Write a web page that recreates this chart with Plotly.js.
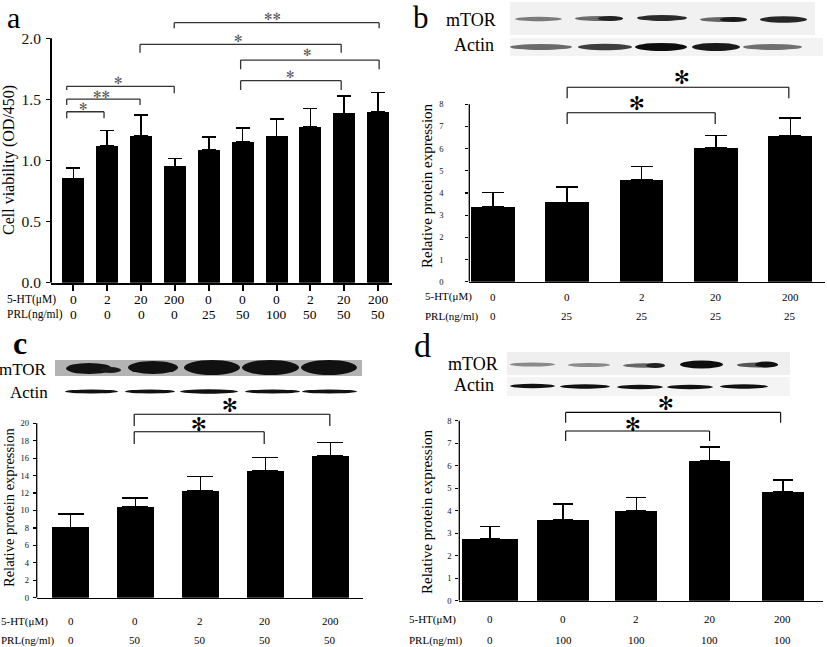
<!DOCTYPE html>
<html><head><meta charset="utf-8">
<script src="https://cdn.plot.ly/plotly-3.0.1.min.js"></script>
<style>html,body{margin:0;padding:0;background:#fff}</style>
</head><body><div id="chart" style="width:827px;height:647px"></div>
<script>
// ---------------- DATA ----------------
// Panel a : cell viability (OD/450)
const aHT   = ['0','2','20','200','0','0','0','2','20','200'];
const aPRL  = ['0','0','0','0','25','50','100','50','50','50'];
const aMean = [0.854,1.121,1.200,0.952,1.086,1.154,1.198,1.274,1.386,1.397];
const aErr  = [0.087,0.123,0.170,0.066,0.104,0.114,0.144,0.153,0.142,0.158];
const aSigFrom  = [0,0,0,2,3,5,5];
const aSigTo    = [1,2,3,8,9,9,8];
const aSigLabel = ['*','**','*','*','**','*','*'];

// Panel b : mTOR, PRL 25 ng/ml
const bHT   = ['0','0','2','20','200'];
const bPRL  = ['0','25','25','25','25'];
const bMean = [3.36,3.58,4.59,6.04,6.58];
const bErr  = [0.67,0.70,0.61,0.56,0.79];

// Panel c : mTOR, PRL 50 ng/ml
const cHT   = ['0','0','2','20','200'];
const cPRL  = ['0','50','50','50','50'];
const cMean = [8.07,10.37,12.27,14.53,16.28];
const cErr  = [1.53,1.03,1.61,1.57,1.50];

// Panel d : mTOR, PRL 100 ng/ml
const dHT   = ['0','0','2','20','200'];
const dPRL  = ['0','100','100','100','100'];
const dMean = [2.73,3.59,3.99,6.21,4.84];
const dErr  = [0.56,0.71,0.59,0.63,0.52];

// significance brackets of b, c, d (from group, to group)
const bcdSigFrom  = [1,1];
const bcdSigTo    = [3,4];
const bcdSigLabel = ['*','*'];

// ---------------- LAYOUT HELPERS ----------------
const W = 827, H = 647;
const px = x => x / W;
const py = y => 1 - y / H;
const SERIF = 'Liberation Serif, Times New Roman, serif';
const idx = arr => arr.map((_, i) => i);

function barTrace(vals, errs, xa, ya, width, capw, thick) {
  return {
    type: 'bar', x: idx(vals), y: vals, xaxis: xa, yaxis: ya, width: width,
    marker: {color: '#000', line: {width: 0}},
    error_y: {type: 'data', array: errs, arrayminus: errs.map(() => 0), symmetric: false,
              color: '#000', thickness: thick, width: capw},
    hoverinfo: 'skip', cliponaxis: false
  };
}

const data = [
  barTrace(aMean, aErr, 'x',  'y',  0.65, 7, 1.6),
  barTrace(bMean, bErr, 'x2', 'y2', 0.587, 11, 1.6),
  barTrace(cMean, cErr, 'x3', 'y3', 0.578, 13, 1.6),
  barTrace(dMean, dErr, 'x4', 'y4', [0.77,0.71,0.57,0.57,0.57], 10, 1.6)
];

const shapes = [];
const annotations = [];

function line(xref, yref, x0, y0, x1, y1, color, w) {
  shapes.push({type: 'line', xref: xref, yref: yref, x0: x0, y0: y0, x1: x1, y1: y1,
               line: {color: color, width: w}, layer: 'above'});
}
function text(t, xref, x, yref, y, size, opts) {
  annotations.push(Object.assign({text: t, xref: xref, x: x, yref: yref, y: y, showarrow: false,
    font: {family: SERIF, size: size, color: '#000'}, xanchor: 'center', yanchor: 'middle'}, opts || {}));
}

// ---- y-axis lines drawn only up to the last tick
line('x domain', 'y',  0, 0, 0, 2,  '#000', 2);
line('x2 domain','y2', 0, 0, 0, 8,  '#000', 1.3);
line('x3 domain','y3', 0, 0, 0, 20, '#000', 1.3);
line('x4 domain','y4', 0, 0, 0, 8,  '#000', 1.3);

// ---- panel a brackets (positions in axis units)
const aBr = [ // x0, x1, yLine, yLeg0, yLeg1, starX, starY
  [-0.195, 0.907, 1.399, 1.345, 1.345, 0.295, 1.44],
  [-0.195, 1.97,  1.503, 1.454, 1.454, 0.839, 1.544],
  [-0.195, 2.98,  1.607, 1.577, 1.550, 1.31,  1.656],
  [1.97,   7.91,  1.951, 1.882, 1.882, 4.87,  2.00],
  [2.98,   9.03,  2.128, 2.082, 2.082, 5.89,  2.182],
  [4.94,   9.03,  1.822, 1.746, 1.746, 6.91,  1.885],
  [4.94,   7.91,  1.653, 1.577, 1.577, 6.40,  1.70]
];
aBr.forEach((b, k) => {
  line('x','y', b[0], b[2], b[1], b[2], '#333', 1.3);
  line('x','y', b[0], b[2], b[0], b[3], '#333', 1.3);
  line('x','y', b[1], b[2], b[1], b[4], '#333', 1.3);
  const lab = aSigLabel[k].replace(/\*/g, '✻');
  annotations.push({text: lab, xref: 'x', yref: 'y', x: b[5], y: b[6], showarrow: false,
    font: {family: 'DejaVu Sans', size: 10, color: '#555'}, xanchor: 'center', yanchor: 'middle'});
});

// ---- panels b,c,d brackets
function bcdBrackets(xa, ya, spec) {
  spec.forEach(b => {
    line(xa, ya, b[0], b[2], b[1], b[2], '#000', 1.1);
    line(xa, ya, b[0], b[2], b[0], b[3], '#000', 1.1);
    line(xa, ya, b[1], b[2], b[1], b[3], '#000', 1.1);
    annotations.push({text: '✻', xref: xa, yref: ya, x: b[4], y: b[5], showarrow: false,
      font: {family: 'DejaVu Sans', size: 19, color: '#000'}, xanchor: 'center', yanchor: 'middle'});
  });
}
// x0, x1, yLine, yLeg, starX, starY
bcdBrackets('x2','y2', [[bcdSigFrom[0], bcdSigTo[0]-0.01, 7.62, 7.11, 1.94, 8.05],
                        [bcdSigFrom[1], bcdSigTo[1]-0.02, 8.77, 8.27, 2.55, 9.25]]);
bcdBrackets('x3','y3', [[bcdSigFrom[0]-0.02, bcdSigTo[0]-0.02, 19.04, 17.63, 1.98, 19.92],
                        [bcdSigFrom[1]-0.02, bcdSigTo[1]-0.01, 21.03, 19.69, 2.45, 22.1]]);
bcdBrackets('x4','y4', [[bcdSigFrom[0]+0.036, bcdSigTo[0], 7.54, 7.10, 1.95, 7.84],
                        [bcdSigFrom[1]+0.036, bcdSigTo[1]-0.03, 8.37, 7.91, 2.41, 8.77]]);

// ---- condition rows under the x axes
function rows(xa, ht, prl, labX, y1, y2, labSize, valSize) {
  text('5-HT(μM)', 'paper', px(labX), 'paper', py(y1), labSize, {xanchor: 'left'});
  text('PRL(ng/ml)', 'paper', px(labX), 'paper', py(y2), labSize, {xanchor: 'left'});
  ht.forEach((v, i) => text(v, xa, i, 'paper', py(y1), valSize));
  prl.forEach((v, i) => text(v, xa, i, 'paper', py(y2), valSize));
}
rows('x',  aHT, aPRL, 5,   299,   314.5, 11.5, 13.5);
rows('x2', bHT, bPRL, 423, 296.7, 316,   11,   11);
rows('x3', cHT, cPRL, -1,  621,   640,   11,   11);
rows('x4', dHT, dPRL, 407, 619,   640,   11,   11);

// ---- panel letters, y titles, blot labels
text('a', 'paper', px(13), 'paper', py(17.5), 30);
text('b', 'paper', px(421), 'paper', py(17.5), 31);
text('c', 'paper', px(20), 'paper', py(343), 32, {font: {family: SERIF, size: 32, color: '#000', weight: 'bold'}});
text('d', 'paper', px(422), 'paper', py(345), 34);

text('Cell viability (OD/450)', 'paper', px(9), 'paper', py(160), 16, {textangle: -90});
text('Relative protein expression', 'paper', px(427), 'paper', py(186), 15, {textangle: -90});
text('Relative protein expression', 'paper', px(9), 'paper', py(508), 14.5, {textangle: -90});
text('Relative protein expression', 'paper', px(427), 'paper', py(512), 15, {textangle: -90});

text('mTOR', 'paper', px(498), 'paper', py(20), 18, {xanchor: 'right'});
text('Actin', 'paper', px(496), 'paper', py(45), 18, {xanchor: 'right'});
text('mTOR', 'paper', px(49), 'paper', py(369), 17, {xanchor: 'right'});
text('Actin', 'paper', px(50), 'paper', py(392), 17, {xanchor: 'right'});
text('mTOR', 'paper', px(500), 'paper', py(364), 18, {xanchor: 'right'});
text('Actin', 'paper', px(496), 'paper', py(385), 18, {xanchor: 'right'});

// ---- western blot strips (decorative image content)
function rect(x0, y0, x1, y1, color) {
  shapes.push({type: 'rect', xref: 'paper', yref: 'paper', x0: px(x0), x1: px(x1), y0: py(y1), y1: py(y0),
               fillcolor: color, line: {width: 0}, layer: 'below'});
}
function band(x0, x1, yc, h, color) {
  shapes.push({type: 'circle', xref: 'paper', yref: 'paper', x0: px(x0), x1: px(x1), y0: py(yc + h / 2), y1: py(yc - h / 2),
               fillcolor: color, line: {width: 0}, layer: 'below'});
}
// b
rect(510, 2, 815, 35, '#f1f1f1');
rect(510, 38, 823, 56, '#f3f3f3');
band(515, 562, 19, 4.5, '#7a7a7a');
band(575, 623, 18.5, 5, '#6a6a6a'); band(598, 623, 18.5, 5, '#222');
band(637, 687, 18, 6, '#2a2a2a');
band(700, 747, 19.5, 5, '#666');  band(720, 747, 19.5, 5, '#1a1a1a');
band(760, 807, 19.5, 6.5, '#262626');
band(510, 572, 47, 6, '#6a6a6a');
band(578, 632, 47, 6.5, '#3e3e3e');
band(635, 687, 47, 8, '#0d0d0d');
band(692, 740, 47, 8, '#1a1a1a');
band(743, 802, 47, 6, '#707070');
// c
rect(55, 360, 362, 376, '#b3b3b3');
band(66, 112, 368.5, 11, '#121212'); band(100, 121, 370, 6, '#1a1a1a');
band(128, 178, 367.5, 13, '#111');
band(184, 240, 367.5, 15, '#111');
band(242, 299, 367.5, 15, '#111');
band(301, 357, 367.5, 15, '#111');
band(65, 118, 391.5, 4, '#111');
band(125, 175, 391.5, 4, '#111');
band(180, 238, 391.5, 4.5, '#111');
band(245, 300, 391.5, 4, '#111');
band(302, 357, 391.5, 4, '#111');
// d
rect(507, 352, 790, 375, '#efefef');
rect(507, 377, 790, 396, '#f4f4f4');
band(510, 555, 364.5, 4, '#8a8a8a');
band(568, 610, 365, 4, '#8a8a8a');
band(623, 665, 365.5, 4.5, '#666'); band(646, 665, 365.5, 5, '#222');
band(680, 723, 364.5, 8, '#0d0d0d');
band(737, 778, 365, 5, '#555'); band(755, 778, 364.5, 6, '#111');
band(510, 555, 386, 4.5, '#111');
band(560, 610, 386.5, 4.5, '#111');
band(617, 663, 387, 4.5, '#111');
band(667, 713, 387, 4.5, '#111');
band(720, 768, 386.5, 4.5, '#111');

// ---------------- AXES ----------------
function xAx(d0, d1, r0, r1, anchor, lw, ticks) {
  return {domain: [px(d0), px(d1)], range: [r0, r1], anchor: anchor, showline: true, linecolor: '#000',
          linewidth: lw, showgrid: false, zeroline: false, showticklabels: false,
          ticks: ticks ? 'outside' : '', tickvals: ticks || [], ticklen: 6, tickwidth: 2, tickcolor: '#000',
          fixedrange: true};
}
function yAx(y0px, pxPerUnit, top, anchor, tv, fmt, size, standoff, tl) {
  return {domain: [py(y0px), py(y0px - top * pxPerUnit)], range: [0, top], anchor: anchor,
          showline: false, showgrid: false, zeroline: false, ticks: 'outside', ticklen: tl, tickwidth: 1.2,
          tickcolor: '#000', tickvals: tv, ticktext: tv.map(fmt),
          tickfont: {family: SERIF, size: size, color: '#111'}, ticklabelstandoff: standoff, fixedrange: true};
}

const layout = {
  width: W, height: H, margin: {l: 0, r: 0, t: 0, b: 0},
  paper_bgcolor: '#fff', plot_bgcolor: 'rgba(0,0,0,0)', showlegend: false,
  font: {family: SERIF, color: '#000'},
  xaxis:  xAx(51, 392, -0.659, 9.41, 'y', 2, idx(aMean)),
  yaxis:  yAx(282.7, 122.2, 2.3, 'x', [0, 0.5, 1, 1.5, 2], v => v.toFixed(1), 15.5, 2, 4),
  xaxis2: xAx(469.3, 825, -0.315, 4.466, 'y2', 1.3, null),
  yaxis2: yAx(281.7, 22.175, 9.3, 'x2', [0,1,2,3,4,5,6,7,8], v => String(v), 8.5, 20, 3),
  xaxis3: xAx(36.7, 363.3, -0.52, 4.505, 'y3', 1.3, null),
  yaxis3: yAx(597.7, 8.72, 22.2, 'x3', [0,2,4,6,8,10,12,14,16,18,20], v => String(v), 8.5, 2, 3),
  xaxis4: xAx(459.3, 823, -0.416, 4.548, 'y4', 1.3, null),
  yaxis4: yAx(600.7, 22.5, 9.0, 'x4', [0,1,2,3,4,5,6,7,8], v => String(v), 8.5, 2, 3),
  shapes: shapes,
  annotations: annotations,
  bargap: 0
};

Plotly.newPlot('chart', data, layout, {displayModeBar: false, staticPlot: true});
</script></body></html>
